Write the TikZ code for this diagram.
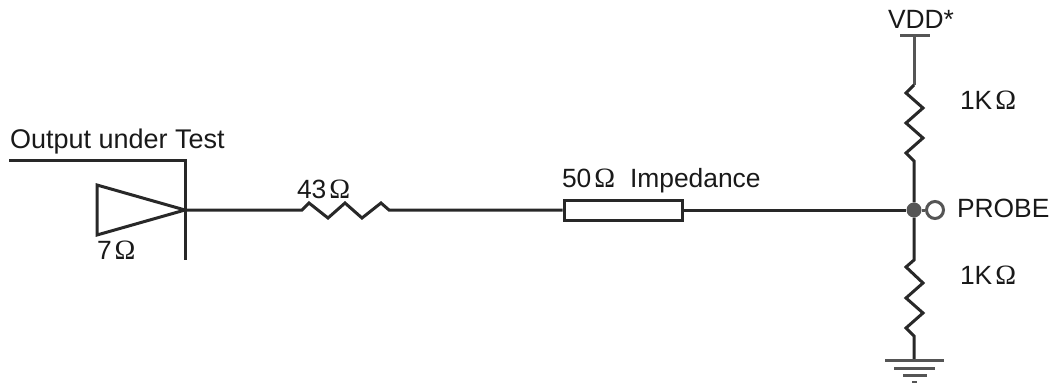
\documentclass[tikz,border=0pt]{standalone}
\usepackage{fontspec}
\setmainfont{Liberation Sans}
\newfontfamily\ohmfont{Liberation Serif}
\newcommand{\ohmsign}{\kern 3pt{\ohmfont\fontsize{28}{28}\selectfont Ω}}
\definecolor{wirec}{RGB}{40,40,40}
\definecolor{softc}{RGB}{85,85,85}

\begin{document}
\begin{tikzpicture}[
    x=1pt, y=-1pt,
    wire/.style={
        line width=3pt, color=wirec, line join=miter
    },
    soft/.style={
        line width=3pt, color=softc
    },
    lbl/.style={
        anchor=base west, inner sep=0pt, outer sep=0pt,
        font=\fontsize{26.4}{26.4}\selectfont, text=black!90
    }
]
    \useasboundingbox (0,0) rectangle (1050,383);

    % driver
    \coordinate (busl) at (9,160);
    \coordinate (busr) at (185,160);
    \coordinate (busb) at (185,260);
    \coordinate (tip) at (185,210);
    \coordinate (tria) at (97,185);
    \coordinate (trib) at (97,235);
    \draw[wire] (busl) -- (busr) -- (busb);
    \draw[wire] (tria) -- (tip) -- (trib) -- cycle;

    % line with series resistor and impedance box
    \coordinate (ra) at (302,210);
    \coordinate (rb) at (389,210);
    \node[draw=wirec, line width=3pt, minimum width=118pt, minimum height=20pt,
        inner sep=0pt] (zbox) at (623,210) {};
    \node[circle, fill=softc, minimum size=15pt, inner sep=0pt] (junc) at (914,210) {};
    \node[circle, draw=softc, line width=3pt, minimum size=17pt, inner sep=0pt] (probe) at (935,210) {};
    \draw[wire] (tip) -- (ra) -- ++(7,-7) -- ++(19,15) -- ++(17,-15) -- ++(17,15)
        -- ++(19,-15) -- (rb) -- (zbox.west);
    \draw[wire] (zbox.east) -- (junc);
    \draw[soft] (junc) -- (probe);

    % upper divider
    \coordinate (vdd) at (914,35);
    \coordinate (vddl) at (900,35);
    \coordinate (vddr) at (930,35);
    \coordinate (ua) at (914,85);
    \coordinate (ub) at (914,161);
    \draw[soft] (vddl) -- (vddr);
    \draw[soft] (vdd) -- (ua);
    \draw[wire] (ua) -- ++(-8,8) -- ++(17,15) -- ++(-17,15) -- ++(17,15) -- ++(-17,15)
        -- (ub) -- (junc);

    % lower divider and ground
    \coordinate (la) at (914,260);
    \coordinate (lb) at (914,336);
    \coordinate (gnd) at (914,360);
    \draw[wire] (junc) -- (la) -- ++(-8,7) -- ++(17,16) -- ++(-17,15) -- ++(17,15) -- ++(-17,15)
        -- (lb) -- (gnd);
    \coordinate (ga) at (885,360);
    \coordinate (gb) at (944,360);
    \coordinate (gc) at (894,368);
    \coordinate (gd) at (935,368);
    \coordinate (ge) at (903,375);
    \coordinate (gf) at (927,375);
    \coordinate (gg) at (912,382);
    \coordinate (gh) at (917,382);
    \draw[soft] (ga) -- (gb) (gc) -- (gd) (ge) -- (gf) (gg) -- (gh);

    % labels
    \node[lbl, font=\fontsize{27}{27}\selectfont] (outlbl) at (10,148) {Output under Test};
    \node[lbl] (drvlbl) at (97,259) {7\ohmsign};
    \node[lbl] (serlbl) at (297,198) {43\ohmsign};
    \node[lbl] (zlbl) at (562,187) {50\ohmsign};
    \node[lbl] (implbl) at (630,187) {Impedance};
    \node[lbl] (vddlbl) at (888,28) {VDD*};
    \node[lbl] (uplbl) at (960,109) {1K\ohmsign};
    \node[lbl] (problbl) at (957,217) {PROBE};
    \node[lbl] (lowlbl) at (960,284) {1K\ohmsign};
\end{tikzpicture}
\end{document}
